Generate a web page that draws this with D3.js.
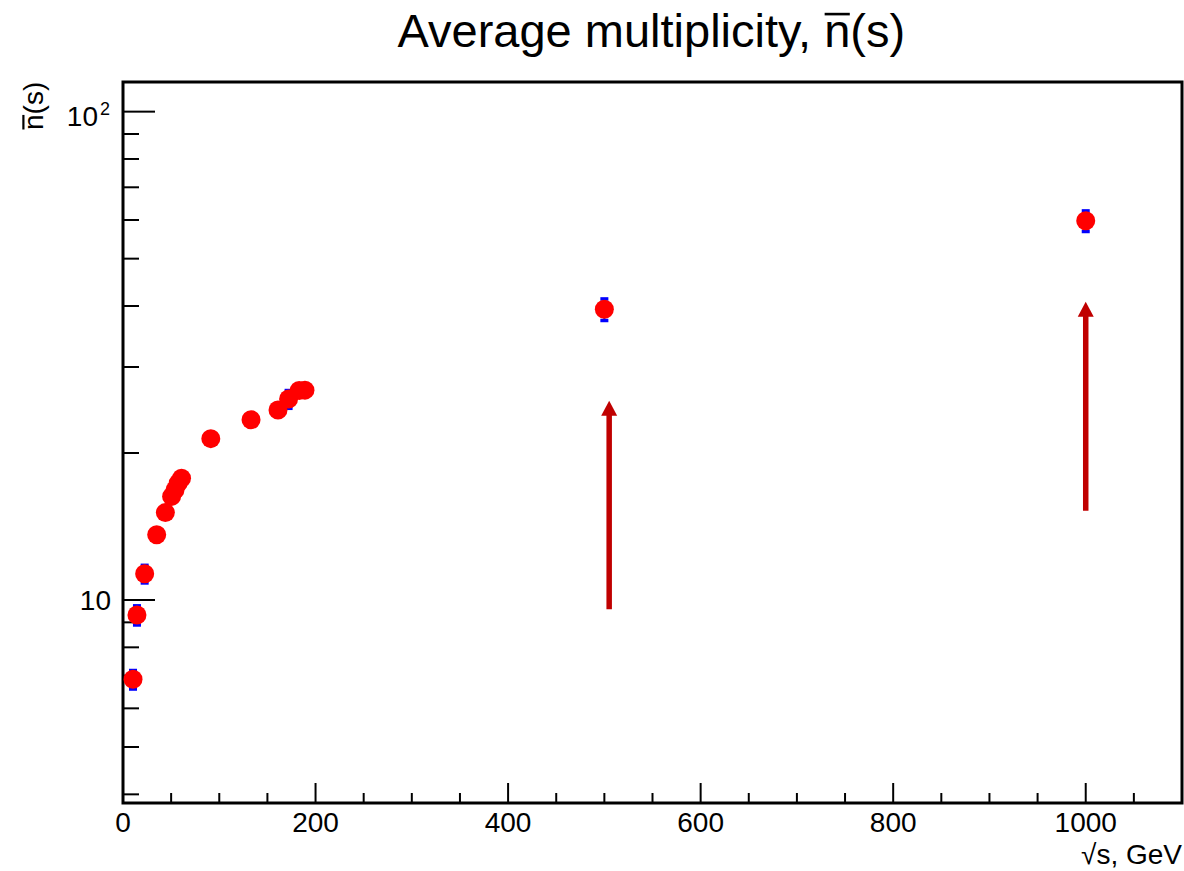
<!DOCTYPE html>
<html>
<head>
<meta charset="utf-8">
<script src="https://cdn.jsdelivr.net/npm/d3@7"></script>
<style>
  body { margin: 0; background: #fff; }
  text { font-family: "Liberation Sans", Arial, Helvetica, sans-serif; fill: #000; }
</style>
</head>
<body>
<svg id="chart"></svg>
<script>
// sqrt(s) in GeV, mean multiplicity and its error
const energies = [10.4, 14.5, 22.5, 35, 44, 50.5, 54, 57.3, 60.8, 91.2, 133, 161, 172, 183, 189, 500, 1000];
const nMean = [6.88, 9.32, 11.32, 13.6, 15.1, 16.3, 16.8, 17.35, 17.75, 21.4, 23.4, 24.5, 25.8, 26.85, 26.9, 39.4, 59.8];
const nErr = [0.3, 0.42, 0.47, 0.2, 0.2, 0.2, 0.2, 0.2, 0.2, 0.1, 0.5, 0.5, 1.08, 0.6, 0.4, 2.0, 2.9];

// arrows: x position, start value, end (tip) value
const arrowX = [505, 1000];
const arrowFrom = [9.57, 15.24];
const arrowTo = [25.6, 40.8];

const xTicksMajor = [0, 200, 400, 600, 800, 1000];
const yTicksMajor = [10, 100];

// draws a text and puts a bar over the character at index ci (n-bar)
function barText(parent, str, ci, size, barW) {
  const t = parent.append("text").attr("font-size", size).text(str);
  const ext = t.node().getExtentOfChar(ci);
  const yBar = -0.70 * size;
  parent.append("line")
    .attr("x1", ext.x + 0.5).attr("x2", ext.x + ext.width - 0.5)
    .attr("y1", yBar).attr("y2", yBar)
    .attr("stroke", "#000").attr("stroke-width", barW);
  return t;
}

class MultiplicityPlot {
  margin = { top: 82, right: 2, bottom: 68, left: 123 }

  constructor(svg, width = 1184, height = 871) {
    this.svg = d3.select(svg);
    this.width = width - this.margin.left - this.margin.right;
    this.height = height - this.margin.top - this.margin.bottom;
  }

  initialize() {
    this.svg.attr("width", this.width + this.margin.left + this.margin.right)
      .attr("height", this.height + this.margin.top + this.margin.bottom);

    this.xScale = d3.scaleLinear().domain([0, 1100]).range([0, this.width]);
    this.yScale = d3.scaleLog().domain([3.84, 115]).range([this.height, 0]);

    this.container = this.svg.append("g")
      .attr("transform", `translate(${this.margin.left}, ${this.margin.top})`);
  }

  drawAxes() {
    const g = this.container;
    const x = this.xScale, y = this.yScale;

    // x ticks every 50, long ones every 200
    const xMinor = d3.range(0, 1101, 50).filter(v => v % 200 !== 0);
    g.append("g").selectAll("line")
      .data(xMinor.map(v => [v, 10]).concat(xTicksMajor.map(v => [v, 20])))
      .join("line")
      .attr("x1", d => x(d[0])).attr("x2", d => x(d[0]))
      .attr("y1", this.height).attr("y2", d => this.height - d[1])
      .attr("stroke", "#000").attr("stroke-width", 2);

    g.append("g").selectAll("text")
      .data(xTicksMajor)
      .join("text")
      .attr("x", d => x(d)).attr("y", this.height + 29)
      .attr("text-anchor", "middle")
      .attr("font-size", 28)
      .text(d => d);

    // y log ticks
    const yMinor = [4, 5, 6, 7, 8, 9, 20, 30, 40, 50, 60, 70, 80, 90];
    g.append("g").selectAll("line")
      .data(yMinor.map(v => [v, 16]).concat(yTicksMajor.map(v => [v, 32])))
      .join("line")
      .attr("x1", 0).attr("x2", d => d[1])
      .attr("y1", d => y(d[0])).attr("y2", d => y(d[0]))
      .attr("stroke", "#000").attr("stroke-width", 2);

    const ylab = g.append("g").selectAll("text")
      .data(yTicksMajor)
      .join("text")
      .attr("x", d => d === 100 ? -13 : -12)
      .attr("y", d => y(d) + (d === 100 ? 14 : 10))
      .attr("text-anchor", "end")
      .attr("font-size", 28);
    ylab.filter(d => d === 10).text("10");
    ylab.filter(d => d === 100).each(function() {
      const t = d3.select(this);
      t.append("tspan").text("10");
      t.append("tspan").attr("dx", 2).attr("dy", -11).attr("font-size", 18).text("2");
    });

    // frame
    g.append("rect")
      .attr("x", 0).attr("y", 0)
      .attr("width", this.width).attr("height", this.height)
      .attr("fill", "none").attr("stroke", "#000").attr("stroke-width", 3);
  }

  drawData() {
    const x = this.xScale, y = this.yScale;
    const r = 9.5;
    const pts = energies.map((e, i) => ({ e, n: nMean[i], err: nErr[i] }));

    // error bars in blue, only where they stick out of the marker
    const errG = this.container.append("g");
    pts.forEach(p => {
      const cx = x(p.e), cy = y(p.n);
      const up = y(p.n + p.err), lo = y(p.n - p.err);
      if (cy - up > r - 2) {
        errG.append("line").attr("x1", cx).attr("x2", cx).attr("y1", up).attr("y2", lo)
          .attr("stroke", "#0000ff").attr("stroke-width", 2);
        [up, lo].forEach(yy => errG.append("rect")
          .attr("x", cx - 4).attr("y", yy - 1.5).attr("width", 8).attr("height", 3.5)
          .attr("fill", "#0000ff"));
      }
    });

    this.container.append("g").selectAll("circle")
      .data(pts)
      .join("circle")
      .attr("cx", d => x(d.e)).attr("cy", d => y(d.n))
      .attr("r", r)
      .attr("fill", "#ff0000");

    // dark red arrows
    const ag = this.container.append("g");
    arrowX.forEach((ax, i) => {
      const px = x(ax), y0 = y(arrowFrom[i]), y1 = y(arrowTo[i]);
      ag.append("line").attr("x1", px).attr("x2", px).attr("y1", y0).attr("y2", y1 + 12)
        .attr("stroke", "#c00000").attr("stroke-width", 5.5);
      ag.append("path")
        .attr("d", `M${px},${y1} L${px - 8},${y1 + 15} L${px + 8},${y1 + 15} Z`)
        .attr("fill", "#c00000");
    });
  }

  drawTitles() {
    const title = "Average multiplicity, n(s)";
    const tg = this.svg.append("g")
      .attr("transform", `translate(${this.margin.left + this.width / 2 - 255}, 47)`);
    barText(tg, title, title.indexOf("n(s)"), 47, 2.6);

    this.svg.append("text")
      .attr("x", 1182).attr("y", 864)
      .attr("text-anchor", "end").attr("font-size", 28)
      .text("\u221As, GeV");

    const yg = this.svg.append("g")
      .attr("transform", "translate(43, 130) rotate(-90)");
    barText(yg, "n(s)", 0, 28, 2.2);
  }
}

const plot = new MultiplicityPlot("#chart");
plot.initialize();
plot.drawAxes();
plot.drawData();
plot.drawTitles();
</script>
</body>
</html>
